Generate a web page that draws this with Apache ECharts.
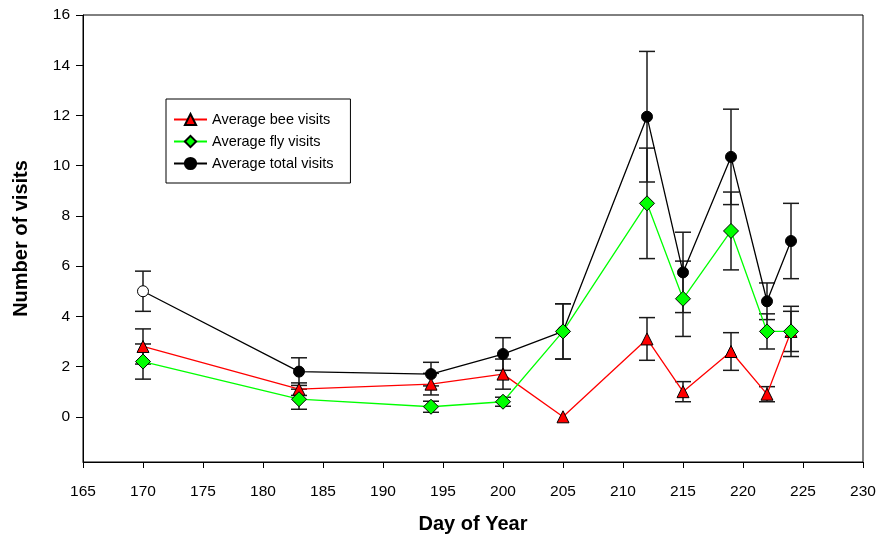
<!DOCTYPE html>
<html>
<head>
<meta charset="utf-8">
<script src="https://cdn.jsdelivr.net/npm/echarts@6/dist/echarts.min.js"></script>
<style>
html,body{margin:0;padding:0;background:#fff;}
#chart{width:880px;height:542px;}
</style>
</head>
<body>
<div id="chart"></div>
<script>
// ---- data ----
var days = [170, 183, 194, 200, 205, 212, 215, 219, 222, 224];
var beeVisits = [2.8, 1.1, 1.3, 1.7, 0, 3.1, 1.0, 2.6, 0.9, 3.4];
var flyVisits = [2.2, 0.7, 0.4, 0.6, 3.4, 8.5, 4.7, 7.4, 3.4, 3.4];
var totalVisits = [5.0, 1.8, 1.7, 2.5, 3.4, 11.95, 5.75, 10.35, 4.6, 7.0];
var beeErr = [0.7, 0.25, 0.43, 0.6, 0, 0.85, 0.4, 0.75, 0.3, 0.8];
var flyErr = [0.7, 0.4, 0.22, 0.18, 1.1, 2.2, 1.5, 1.55, 0.7, 1.0];
var totalErr = [0.8, 0.55, 0.47, 0.65, 1.1, 2.6, 1.6, 1.9, 0.73, 1.5];
var yTickValues = [0, 2, 4, 6, 8, 10, 12, 14, 16];
var seriesNames = ['Average bee visits', 'Average fly visits', 'Average total visits'];

var FONT = 'Arial, "Liberation Sans", sans-serif';

function pts(vals) {
  return days.map(function (d, i) { return [d, vals[i]]; });
}
function errData(vals, errs) {
  var out = [];
  days.forEach(function (d, i) {
    if (errs[i] > 0) out.push([d, vals[i] - errs[i], vals[i] + errs[i]]);
  });
  return out;
}
function errSeries(vals, errs) {
  return {
    type: 'custom',
    silent: true,
    z: 1,
    data: errData(vals, errs),
    encode: { x: 0, y: [1, 2] },
    renderItem: function (params, api) {
      var x = api.value(0);
      var lo = api.coord([x, api.value(1)]);
      var hi = api.coord([x, api.value(2)]);
      var hw = 8;
      var style = { stroke: '#1a1a1a', lineWidth: 1.5 };
      return {
        type: 'group',
        children: [
          { type: 'line', shape: { x1: lo[0], y1: lo[1], x2: hi[0], y2: hi[1] }, style: style },
          { type: 'line', shape: { x1: lo[0] - hw, y1: lo[1], x2: lo[0] + hw, y2: lo[1] }, style: style },
          { type: 'line', shape: { x1: hi[0] - hw, y1: hi[1], x2: hi[0] + hw, y2: hi[1] }, style: style }
        ]
      };
    }
  };
}

var totalData = pts(totalVisits).map(function (p, i) {
  if (i === 0) return { value: p, itemStyle: { color: '#ffffff', borderColor: '#000', borderWidth: 1 } };
  return p;
});

var chart = echarts.init(document.getElementById('chart'), null, { renderer: 'canvas' });
chart.setOption({
  backgroundColor: '#ffffff',
  animation: false,
  grid: { left: 83, right: 17, top: 15, bottom: 80, show: true, borderColor: '#000', borderWidth: 1 },
  legend: {
    orient: 'vertical',
    left: 166,
    top: 99,
    data: seriesNames,
    backgroundColor: '#fff',
    borderColor: '#000',
    borderWidth: 1,
    padding: [13, 17, 12, 7],
    itemWidth: 33,
    itemHeight: 14,
    itemGap: 7,
    textStyle: { fontFamily: FONT, fontSize: 14.5, color: '#000' }
  },
  xAxis: {
    type: 'value',
    min: 165, max: 230, interval: 5,
    name: 'Day of Year',
    nameLocation: 'middle',
    nameGap: 52,
    nameTextStyle: { fontFamily: FONT, fontSize: 20, fontWeight: 'bold', color: '#000' },
    axisLine: { show: true, onZero: false, lineStyle: { color: '#000', width: 1 } },
    axisTick: { show: true, inside: false, length: 6, lineStyle: { color: '#000' } },
    axisLabel: { fontFamily: FONT, fontSize: 15.5, color: '#000', margin: 22 },
    splitLine: { show: false }
  },
  yAxis: {
    type: 'value',
    min: -1.8, max: 16,
    name: 'Number of visits',
    nameLocation: 'middle',
    nameGap: 52,
    nameTextStyle: { fontFamily: FONT, fontSize: 20, fontWeight: 'bold', color: '#000' },
    axisLine: { show: true, onZero: false, lineStyle: { color: '#000', width: 1 } },
    axisTick: { show: true, inside: false, length: 7, customValues: yTickValues, lineStyle: { color: '#000' } },
    axisLabel: { fontFamily: FONT, fontSize: 15.5, color: '#000', margin: 13, customValues: yTickValues },
    splitLine: { show: false }
  },
  series: [
    errSeries(totalVisits, totalErr),
    errSeries(flyVisits, flyErr),
    errSeries(beeVisits, beeErr),
    {
      name: seriesNames[2], type: 'line', z: 3, data: totalData,
      symbol: 'circle', symbolSize: 11,
      lineStyle: { color: '#000', width: 1.3 },
      itemStyle: { color: '#000', borderColor: '#000', borderWidth: 1 }
    },
    {
      name: seriesNames[0], type: 'line', z: 4, data: pts(beeVisits),
      symbol: 'triangle', symbolSize: 12,
      lineStyle: { color: '#ff0000', width: 1.3 },
      itemStyle: { color: '#ff0000', borderColor: '#000', borderWidth: 1 }
    },
    {
      name: seriesNames[1], type: 'line', z: 5, data: pts(flyVisits),
      symbol: 'diamond', symbolSize: 15,
      lineStyle: { color: '#00ff00', width: 1.3 },
      itemStyle: { color: '#00ff00', borderColor: '#000', borderWidth: 1 }
    }
  ]
});
</script>
</body>
</html>
